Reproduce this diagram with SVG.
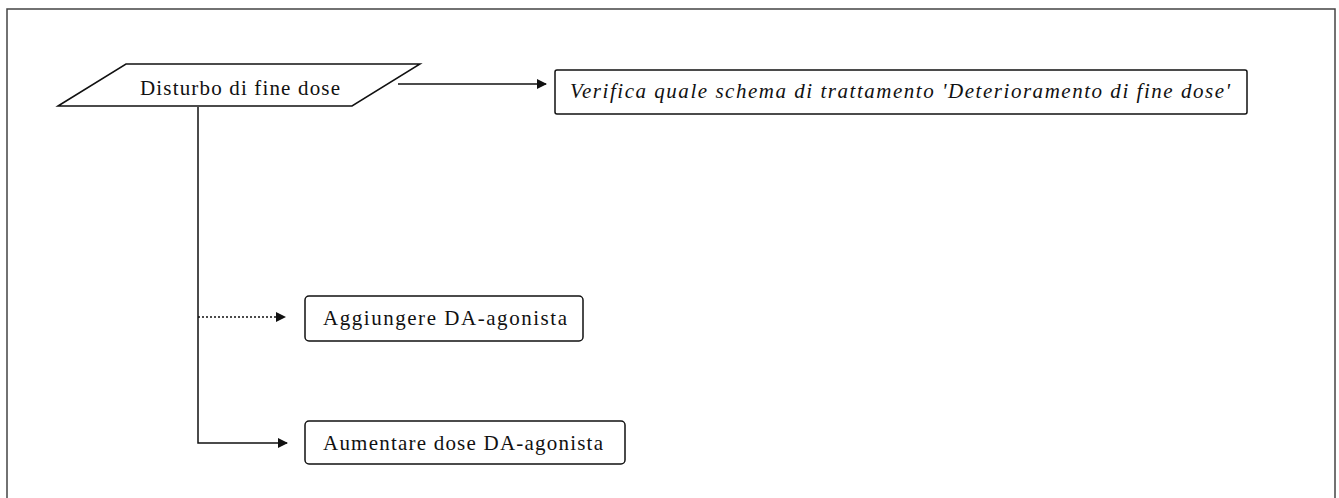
<svg xmlns="http://www.w3.org/2000/svg" width="1339" height="498" viewBox="0 0 1339 498">
<style>
.box{fill:#fff;stroke:#111;stroke-width:1.5}
.t{font-family:"Liberation Serif",serif;font-size:21px;fill:#111}
.c{fill:none;stroke:#111;stroke-width:1.5}
</style>
<defs>
<marker id="ah" viewBox="0 0 10 10" refX="9" refY="5" markerWidth="10" markerHeight="10" markerUnits="userSpaceOnUse" orient="auto">
<path d="M0,0 L10,5 L0,10 z" fill="#111"/>
</marker>
</defs>
<rect x="7" y="9" width="1328" height="500" fill="none" stroke="#444" stroke-width="1.5"/>
<g id="connectors">
<path class="c" d="M398,84 H546" marker-end="url(#ah)"/>
<path class="c" d="M198,107 V443 H287" marker-end="url(#ah)"/>
<path class="c" d="M198,317 H285" stroke-dasharray="2,2" marker-end="url(#ah)"/>
</g>
<g id="n1">
<polygon class="box" points="58,106 126,64 420,64 352,106"/>
<text class="t" x="140" y="95" textLength="200" lengthAdjust="spacing">Disturbo di fine dose</text>
</g>
<g id="n2">
<rect class="box" x="555" y="70" width="692" height="44" rx="2"/>
<text class="t" x="570" y="98" font-style="italic" textLength="660" lengthAdjust="spacing">Verifica quale schema di trattamento 'Deterioramento di fine dose'</text>
</g>
<g id="n3">
<rect class="box" x="305" y="296" width="278" height="45" rx="4"/>
<text class="t" x="323" y="325" textLength="244" lengthAdjust="spacing">Aggiungere DA-agonista</text>
</g>
<g id="n4">
<rect class="box" x="305" y="421" width="320" height="43" rx="4"/>
<text class="t" x="323" y="450" textLength="280" lengthAdjust="spacing">Aumentare dose DA-agonista</text>
</g>
</svg>
